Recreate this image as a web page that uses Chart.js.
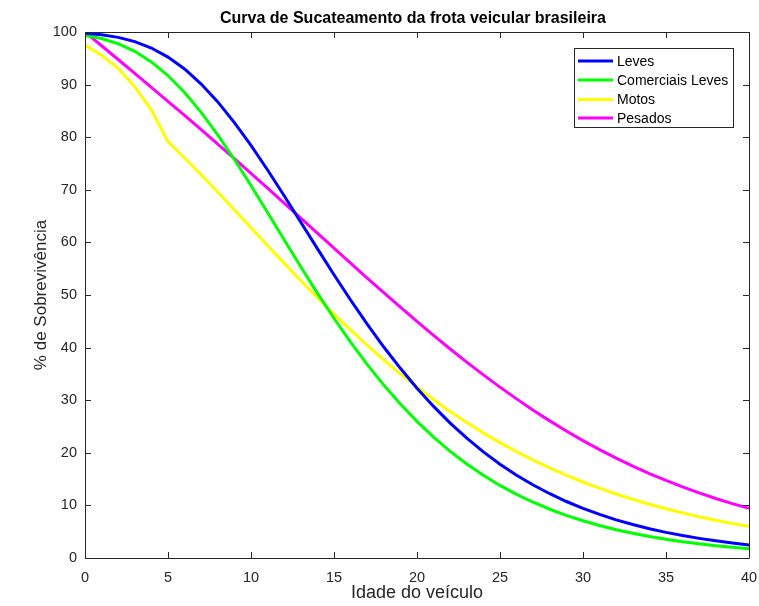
<!DOCTYPE html>
<html>
<head>
<meta charset="utf-8">
<script src="https://cdn.jsdelivr.net/npm/chart.js@4.4.1/dist/chart.umd.min.js"></script>
<style>
  html, body { margin: 0; padding: 0; background: #ffffff; }
  #wrap { width: 759px; height: 606px; position: relative; }
</style>
</head>
<body>
<div id="wrap"><canvas id="c" width="759" height="606"></canvas></div>
<script>
const chartTitle = 'Curva de Sucateamento da frota veicular brasileira';
const xAxisTitle = 'Idade do veículo';
const yAxisTitle = '% de Sobrevivência';
const seriesNames = ['Leves', 'Comerciais Leves', 'Motos', 'Pesados'];
const ages = [0,1,2,3,4,5,6,7,8,9,10,11,12,13,14,15,16,17,18,19,20,21,22,23,24,25,26,27,28,29,30,31,32,33,34,35,36,37,38,39,40];
const xTicks = [0,5,10,15,20,25,30,35,40];
const yTicks = [0,10,20,30,40,50,60,70,80,90,100];

const leves = [99.76,99.48,98.98,98.17,96.95,95.23,92.97,90.11,86.71,82.78,78.43,73.76,68.86,63.84,58.81,53.86,49.05,44.46,40.11,36.06,32.29,28.82,25.65,22.78,20.18,17.84,15.74,13.88,12.22,10.74,9.43,8.28,7.25,6.36,5.57,4.87,4.26,3.73,3.26,2.85,2.49];
const comerciaisLeves = [99.36,98.75,97.77,96.33,94.32,91.73,88.51,84.73,80.45,75.77,70.81,65.68,60.49,55.36,50.36,45.58,41.05,36.80,32.87,29.26,25.97,22.98,20.28,17.87,15.72,13.80,12.10,10.60,9.27,8.10,7.08,6.17,5.38,4.70,4.09,3.56,3.10,2.70,2.34,2.04,1.77];
const motos = [97.5,95.6,93.1,89.6,85.2,79.18,76.09,72.87,69.57,66.20,62.81,59.42,56.06,52.75,49.53,46.39,43.36,40.45,37.67,35.01,32.50,30.12,27.87,25.76,23.79,21.94,20.22,18.61,17.12,15.74,14.45,13.27,12.17,11.16,10.23,9.37,8.58,7.85,7.19,6.57,6.01];
const pesados = [100.0,97.39,94.77,92.14,89.49,86.83,84.14,81.43,78.68,75.91,73.12,70.30,67.47,64.61,61.75,58.90,56.06,53.23,50.43,47.68,44.97,42.32,39.73,37.23,34.81,32.48,30.25,28.10,26.07,24.15,22.32,20.60,18.98,17.47,16.06,14.74,13.51,12.37,11.32,10.35,9.44];

const seriesColors = ['#0000ff', '#00ff00', '#ffff00', '#ff00ff'];
const seriesValues = [leves, comerciaisLeves, motos, pesados];

const FONT = "'Liberation Sans', Arial, Helvetica, sans-serif";
const AXIS_COLOR = '#262626';

const datasets = seriesNames.map((name, i) => ({
  label: name,
  data: ages.map((a, j) => ({ x: a, y: seriesValues[i][j] })),
  borderColor: seriesColors[i],
  backgroundColor: seriesColors[i],
  borderWidth: 3,
  pointRadius: 0,
  tension: 0,
  fill: false
}));

const boxPlugin = {
  id: 'matlabBox',
  afterDatasetsDraw(chart) {
    const ctx = chart.ctx;
    const a = chart.chartArea;
    const xs = chart.scales.x, ys = chart.scales.y;
    ctx.save();
    ctx.strokeStyle = AXIS_COLOR;
    ctx.lineWidth = 1;
    ctx.beginPath();
    ctx.rect(Math.round(a.left) + 0.5, Math.round(a.top) + 0.5, Math.round(a.right - a.left), Math.round(a.bottom - a.top));
    ctx.stroke();
    const tl = 6;
    ctx.beginPath();
    xTicks.forEach(v => {
      const px = Math.round(xs.getPixelForValue(v)) + 0.5;
      ctx.moveTo(px, a.bottom); ctx.lineTo(px, a.bottom - tl);
      ctx.moveTo(px, a.top); ctx.lineTo(px, a.top + tl);
    });
    yTicks.forEach(v => {
      const py = Math.round(ys.getPixelForValue(v)) + 0.5;
      ctx.moveTo(a.left, py); ctx.lineTo(a.left + tl, py);
      ctx.moveTo(a.right, py); ctx.lineTo(a.right - tl, py);
    });
    ctx.stroke();

    // title centred over the axes
    ctx.fillStyle = '#000000';
    ctx.font = 'bold 16px ' + FONT;
    ctx.textAlign = 'center';
    ctx.textBaseline = 'middle';
    ctx.fillText(chartTitle, (a.left + a.right) / 2 - 4, 19);

    // legend inside the axes, top right
    const lx = 574, ly = 48, lw = 159, lh = 79;
    ctx.fillStyle = '#ffffff';
    ctx.fillRect(lx, ly, lw, lh);
    ctx.strokeStyle = AXIS_COLOR;
    ctx.lineWidth = 1;
    ctx.strokeRect(lx + 0.5, ly + 0.5, lw, lh);
    ctx.font = '14px ' + FONT;
    ctx.textAlign = 'left';
    ctx.textBaseline = 'middle';
    const rows = [61, 80, 99.5, 118];
    chart.data.datasets.forEach((ds, i) => {
      ctx.strokeStyle = ds.borderColor;
      ctx.lineWidth = 3;
      ctx.beginPath();
      ctx.moveTo(578, rows[i]); ctx.lineTo(613, rows[i]);
      ctx.stroke();
      ctx.fillStyle = '#000000';
      ctx.fillText(ds.label, 617, rows[i] + 1);
    });
    ctx.restore();
  }
};

new Chart(document.getElementById('c'), {
  type: 'line',
  data: { datasets },
  options: {
    responsive: false,
    animation: false,
    devicePixelRatio: 1,
    layout: { padding: { left: 0, right: 10, top: 32, bottom: 0 } },
    plugins: {
      legend: { display: false },
      title: { display: false },
      tooltip: { enabled: false }
    },
    scales: {
      x: {
        type: 'linear',
        min: 0, max: 40,
        afterBuildTicks(scale) { scale.ticks = xTicks.map(v => ({ value: v })); },
        afterFit(scale) { scale.height = 48; scale.paddingLeft = 0; scale.paddingRight = 0; },
        grid: { display: false, drawTicks: false },
        border: { display: false },
        ticks: { color: AXIS_COLOR, font: { family: FONT, size: 14.5 }, padding: 11, maxRotation: 0, autoSkip: false },
        title: { display: true, text: xAxisTitle, color: AXIS_COLOR, font: { family: FONT, size: 18 }, padding: { top: 0, bottom: 2 } }
      },
      y: {
        type: 'linear',
        min: 0, max: 100,
        afterBuildTicks(scale) { scale.ticks = yTicks.map(v => ({ value: v })); },
        afterFit(scale) { scale.width = 85; scale.paddingTop = 0; scale.paddingBottom = 0; },
        grid: { display: false, drawTicks: false },
        border: { display: false },
        ticks: { color: AXIS_COLOR, font: { family: FONT, size: 14.5 }, padding: 8, autoSkip: false },
        title: { display: true, text: yAxisTitle, color: AXIS_COLOR, font: { family: FONT, size: 17 }, padding: { top: 31, bottom: 0 } }
      }
    }
  },
  plugins: [boxPlugin]
});
</script>
</body>
</html>
